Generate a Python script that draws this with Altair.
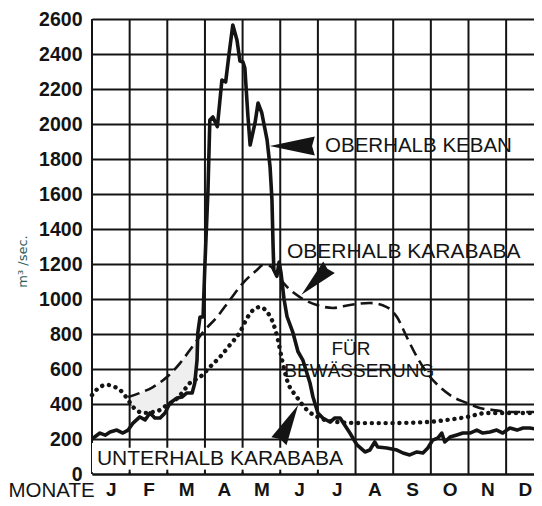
import altair as alt
import pandas as pd
import numpy as np

# ---------------- data ----------------
months = ["J", "F", "M", "A", "M", "J", "J", "A", "S", "O", "N", "D"]
y_ticks = list(range(0, 2601, 200))
month_bounds = list(range(12))

keban_m = [0, 0.21, 0.35, 0.48, 0.66, 0.82, 0.96, 1.09, 1.27, 1.41, 1.54, 1.67, 1.81, 1.94,
           2.07, 2.26, 2.39, 2.52, 2.66, 2.73, 2.79, 2.81, 2.87, 2.95, 3.0, 3.08, 3.13, 3.21,
           3.33, 3.45, 3.55, 3.64, 3.74, 3.85, 3.93, 4.01, 4.06, 4.14, 4.20, 4.33, 4.41, 4.51,
           4.65, 4.73, 4.78, 4.81, 4.83, 4.91, 4.97, 5.02, 5.10, 5.18, 5.34, 5.47, 5.60, 5.79,
           5.87, 6.00, 6.13, 6.32, 6.45, 6.59, 6.66, 6.85, 7.04, 7.25, 7.38, 7.51, 7.59, 7.83,
           8.10, 8.26, 8.44, 8.63, 8.79, 8.92, 9.05, 9.19, 9.29, 9.37, 9.51, 9.69, 9.85, 10.04,
           10.22, 10.38, 10.57, 10.75, 10.91, 11.10, 11.29, 11.45, 11.63, 11.92]
keban_v = [200, 234, 222, 240, 251, 234, 251, 291, 326, 309, 349, 320, 320, 349,
           406, 434, 440, 463, 463, 520, 651, 806, 897, 897, 1200, 1620, 2023, 2040,
           1985, 2251, 2240, 2400, 2566, 2480, 2360, 2354, 2320, 2050, 1880, 2006, 2120, 2063,
           1909, 1754, 1566, 1300, 1166, 1130, 1211, 1150, 1000, 900, 806, 700, 651, 520,
           440, 349, 320, 297, 320, 320, 297, 234, 166, 126, 137, 183, 154, 149,
           137, 120, 109, 126, 120, 149, 194, 206, 234, 183, 211, 223, 234, 234,
           251, 234, 240, 251, 234, 263, 251, 263, 263, 251]

kara_m = [0.96, 1.27, 1.62, 1.99, 2.34, 2.66, 2.95, 3.32, 3.66, 4.01, 4.38, 4.54, 4.73, 4.86,
          5.18, 5.52, 5.97, 6.40, 6.85, 7.38, 7.83, 8.10, 8.36, 8.63, 8.90, 9.24, 9.59, 9.96,
          10.30, 10.65, 11.18, 11.92]
kara_v = [440, 463, 497, 554, 634, 726, 811, 897, 994, 1091, 1166, 1194, 1189, 1154,
          1069, 1011, 966, 949, 966, 977, 954, 897, 783, 669, 577, 497, 440, 406,
          377, 366, 354, 354]

unter_m = [0, 0.21, 0.40, 0.61, 0.80, 0.96, 1.09, 1.27, 1.46, 1.62, 1.81, 1.99, 2.15, 2.39,
           2.60, 2.87, 3.13, 3.40, 3.66, 3.93, 4.12, 4.28, 4.46, 4.65, 4.81, 4.94, 5.05, 5.18,
           5.44, 5.71, 6.05, 6.51, 7.12, 7.99, 8.90, 9.43, 9.96, 10.49, 11.18, 11.92]
unter_v = [451, 497, 509, 497, 469, 423, 383, 354, 349, 354, 366, 394, 411, 463,
           520, 554, 611, 669, 737, 811, 891, 937, 954, 926, 863, 766, 650, 537,
           440, 366, 320, 297, 291, 291, 297, 309, 326, 349, 349, 349]

# ---------------- tables ----------------
keban = pd.DataFrame({"m": keban_m, "v": keban_v})
kara = pd.DataFrame({"m": kara_m, "v": kara_v})
unter = pd.DataFrame({"m": unter_m, "v": unter_v})

grid_m = np.arange(0.96, 2.86, 0.03)
up = np.interp(grid_m, kara_m, kara_v)
lo = np.maximum(np.interp(grid_m, unter_m, unter_v), np.interp(grid_m, keban_m, keban_v))
shade = pd.DataFrame({"m": grid_m, "v": up, "v2": np.minimum(lo, up)})

vgrid = pd.DataFrame({"m": month_bounds, "v": 0, "v2": 2600})
box = pd.DataFrame({"m": [0], "m2": [6.8], "v": [10], "v2": [177]})
stubs = pd.DataFrame({"m": [1, 2, 3, 4, 5, 6] * 2,
                      "v": [150] * 6 + [0] * 6,
                      "v2": [177] * 6 + [25] * 6})

INK = "#141414"
FONT = "Liberation Sans"

xs = alt.Scale(domain=[0, 11.74], nice=False, zero=False)
ys = alt.Scale(domain=[0, 2600], nice=False, zero=False)

label_expr = "[" + ",".join("'%s'" % t for t in months) + "][floor(datum.value)]"
xaxis = alt.Axis(values=[i + 0.5 for i in range(12)], labelExpr=label_expr, ticks=False,
                 grid=False, domain=True, domainColor=INK, domainWidth=2,
                 labelFont=FONT, labelFontSize=19, labelFontWeight="bold", labelColor=INK,
                 labelPadding=6, labelFlush=False, labelOverlap=False,
                 title="MONATE", titleX=-84, titleY=22, titleAlign="left",
                 titleBaseline="alphabetic", titleFont=FONT, titleFontSize=20.5,
                 titleFontWeight="normal", titleColor=INK)
yaxis = alt.Axis(values=y_ticks, format="d", grid=True, gridColor=INK, gridWidth=2, ticks=False,
                 domain=False, labelFont=FONT, labelFontSize=19.5, labelFontWeight="bold",
                 labelColor=INK, labelPadding=10, title="m³ /sec.", titleX=-70, titleY=242,
                 titleAngle=270, titleAlign="center", titleBaseline="middle",
                 titleFont="DejaVu Sans", titleFontSize=13, titleFontWeight="normal",
                 titleColor="#2b5b57")


def X(f="m"):
    return alt.X(f + ":Q", scale=xs, axis=xaxis)


def Y(f="v"):
    return alt.Y(f + ":Q", scale=ys, axis=yaxis)


shade_l = alt.Chart(shade).mark_area(color="#efefef").encode(x=X(), y=Y(), y2="v2:Q")
vgrid_l = alt.Chart(vgrid).mark_rule(color=INK, strokeWidth=2).encode(x=X(), y=Y(), y2="v2:Q")
box_l = alt.Chart(box).mark_rect(color="white").encode(x=X(), x2="m2:Q", y=Y(), y2="v2:Q")
stub_l = alt.Chart(stubs).mark_rule(color=INK, strokeWidth=2).encode(x=X(), y=Y(), y2="v2:Q")

keban_l = alt.Chart(keban).mark_line(color=INK, strokeWidth=3.6, strokeJoin="round").encode(
    x=X(), y=Y(), order="m:Q")
kara_l = alt.Chart(kara).mark_line(color=INK, strokeWidth=2.6, strokeDash=[12, 6],
                                   interpolate="monotone").encode(x=X(), y=Y(), order="m:Q")
unter_l = alt.Chart(unter).mark_line(color=INK, strokeWidth=4.4, strokeDash=[0.1, 6.8],
                                     strokeCap="round", interpolate="monotone").encode(
    x=X(), y=Y(), order="m:Q")

arrow_path = "M -1 0 L 1 -0.42 L 0.88 0 L 1 0.42 Z"
arrows = pd.DataFrame({"m": [5.32, 5.93, 5.22], "v": [1874, 1103, 291],
                       "a": [0, 315, 118], "s": [2025, 1521, 1681]})
arrow_l = alt.Chart(arrows).mark_point(shape=arrow_path, filled=True, color=INK, opacity=1,
                                       strokeWidth=0).encode(
    x=X(), y=Y(), angle=alt.Angle("a:Q", scale=None), size=alt.Size("s:Q", scale=None))


def label(text, m, v, size, align="left"):
    df = pd.DataFrame({"m": [m], "v": [v], "t": [text]})
    return alt.Chart(df).mark_text(align=align, baseline="middle", font=FONT, fontSize=size,
                                   color=INK).encode(x=X(), y=Y(), text="t:N")


texts = [
    label("OBERHALB KEBAN", 6.19, 1874, 20.5),
    label("OBERHALB KARABABA", 5.18, 1269, 21),
    label("FÜR", 6.88, 717, 19, align="center"),
    label("BEWÄSSERUNG", 7.10, 591, 19, align="center"),
    label("UNTERHALB KARABABA", 0.13, 86, 21),
]

chart = alt.layer(shade_l, vgrid_l, box_l, stub_l, keban_l, kara_l, unter_l, arrow_l, *texts).properties(
    width=442, height=455,
    autosize=alt.AutoSizeParams(type="none"),
    padding={"left": 84, "top": 11, "right": 0, "bottom": 24}
).configure_view(stroke=None).configure(background="white")

chart.save("out.html", embed_options={"renderer": "svg", "actions": False})
